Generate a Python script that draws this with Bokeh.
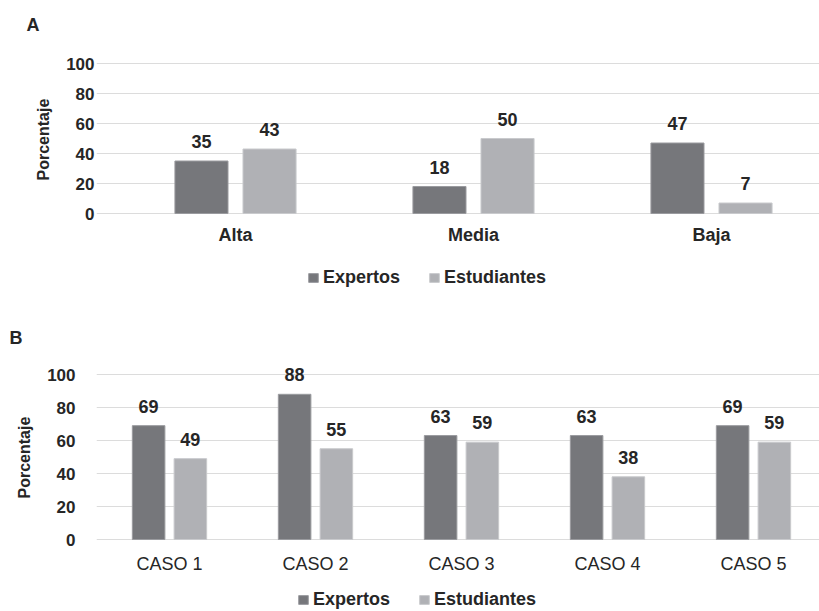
import numpy as np
from bokeh.plotting import figure
from bokeh.models import (ColumnDataSource, Range1d, FixedTicker, LabelSet, Legend,
                          LegendItem, Title)
from bokeh.layouts import column
from bokeh.core.properties import value
from bokeh.embed import file_html
from bokeh.resources import INLINE

# ---- data ----
series_names = ["Expertos", "Estudiantes"]
cats_a = ["Alta", "Media", "Baja"]
expertos_a = [35, 18, 47]
estudiantes_a = [43, 50, 7]

cats_b = ["CASO 1", "CASO 2", "CASO 3", "CASO 4", "CASO 5"]
expertos_b = [69, 88, 63, 63, 69]
estudiantes_b = [49, 55, 59, 38, 59]

y_ticks = [0, 20, 40, 60, 80, 100]
y_label = "Porcentaje"

# ---- style ----
FONT = "Liberation Sans"
TXT = "#262626"
DARK = "#76777b"
LIGHT = "#b0b1b5"
DARK_LINE = "#9a9b9f"
LIGHT_LINE = "#c9cacd"
GRID = "#dcdcdc"
OFF = 0.143
BW = 0.223
W = 819
FRAME_LEFT = 96   # both figures share the same frame left edge (column aligns them)


def make_panel(letter, cats, v1, v2, height, plot_left, top, zero_y, px_per_unit,
               px_per_cat, title_off, title_standoff, xlab_weight, xlab_standoff,
               ytick_standoff, ylab_offset, legend_loc):
    n = len(cats)
    x0 = -(plot_left - FRAME_LEFT) / px_per_cat
    x1 = (W - plot_left) / px_per_cat
    y0 = -(height - zero_y) / px_per_unit
    y1 = (zero_y - top) / px_per_unit
    p = figure(width=W, height=height, output_backend="svg", toolbar_location=None,
               x_range=Range1d(x0, x1), y_range=Range1d(y0, y1),
               min_border_left=FRAME_LEFT, min_border_right=0, min_border_top=top,
               min_border_bottom=0)
    p.outline_line_color = None
    p.background_fill_color = "white"
    p.border_fill_color = "white"

    centers = np.arange(n) + 0.5
    s1 = ColumnDataSource(dict(x=centers - OFF, top=v1, lab=[str(v) for v in v1]))
    s2 = ColumnDataSource(dict(x=centers + OFF, top=v2, lab=[str(v) for v in v2]))
    r1 = p.vbar(x="x", top="top", bottom=0, width=BW, source=s1, fill_color=DARK,
                line_color=DARK_LINE)
    r2 = p.vbar(x="x", top="top", bottom=0, width=BW, source=s2, fill_color=LIGHT,
                line_color=LIGHT_LINE)

    for s in (s1, s2):
        p.add_layout(LabelSet(x="x", y="top", text="lab", source=s, text_align="center",
                              text_baseline="alphabetic", y_offset=13,
                              text_font=value(FONT), text_font_size=value("18px"),
                              text_font_style="bold", text_color=TXT))

    # x axis drawn at y = 0 inside the frame
    p.xaxis.fixed_location = 0
    p.xaxis.ticker = FixedTicker(ticks=list(centers))
    p.xaxis.major_label_overrides = {float(c): name for c, name in zip(centers, cats)}
    p.xaxis.axis_line_color = None
    p.xaxis.major_tick_line_color = None
    p.xaxis.major_tick_out = 0
    p.xaxis.major_tick_in = 0
    p.xaxis.minor_tick_line_color = None
    p.xaxis.major_label_standoff = xlab_standoff
    p.xaxis.major_label_text_font = FONT
    p.xaxis.major_label_text_font_size = "18px"
    p.xaxis.major_label_text_font_style = xlab_weight
    p.xaxis.major_label_text_color = TXT

    p.yaxis.ticker = FixedTicker(ticks=y_ticks)
    p.yaxis.axis_line_color = None
    p.yaxis.major_tick_line_color = None
    p.yaxis.major_tick_out = 0
    p.yaxis.major_tick_in = 0
    p.yaxis.minor_tick_line_color = None
    p.yaxis.major_label_standoff = ytick_standoff
    p.yaxis.major_label_text_font = FONT
    p.yaxis.major_label_text_font_size = "17px"
    p.yaxis.major_label_text_font_style = "bold"
    p.yaxis.major_label_text_color = TXT

    p.xgrid.grid_line_color = None
    p.ygrid.grid_line_color = GRID
    p.ygrid.grid_line_width = 1
    p.ygrid.bounds = (0, x1)

    p.title = Title(text=letter, text_font=FONT, text_font_size="18px", text_font_style="bold",
                    text_color=TXT, align="left", offset=title_off, standoff=title_standoff)

    p.add_layout(Title(text=y_label, text_font=FONT, text_font_size="16px",
                       text_font_style="bold", text_color=TXT, align="left",
                       offset=ylab_offset, standoff=24), "left")

    legend = Legend(items=[LegendItem(label=series_names[0], renderers=[r1]),
                           LegendItem(label=series_names[1], renderers=[r2])],
                    orientation="horizontal", location=legend_loc,
                    glyph_width=12, glyph_height=11, label_standoff=4, spacing=28,
                    padding=0, margin=0, border_line_color=None,
                    background_fill_alpha=0,
                    label_text_font=FONT, label_text_font_size="18px",
                    label_text_font_style="bold", label_text_color=TXT)
    p.add_layout(legend, "center")
    return p


pa = make_panel("A", cats_a, expertos_a, estudiantes_a, height=300, plot_left=116, top=45,
                zero_y=213, px_per_unit=1.5, px_per_cat=238, title_off=-70,
                title_standoff=21, xlab_weight="bold", xlab_standoff=11, ytick_standoff=2,
                ylab_offset=120, legend_loc=(211, 12))
pb = make_panel("B", cats_b, expertos_b, estudiantes_b, height=311, plot_left=96, top=66,
                zero_y=239, px_per_unit=1.65, px_per_cat=146, title_off=-87,
                title_standoff=38, xlab_weight="normal", xlab_standoff=14, ytick_standoff=21,
                ylab_offset=113, legend_loc=(201, 1))

layout = column(pa, pb, spacing=0)
open("out.html", "w").write(file_html(layout, INLINE))
